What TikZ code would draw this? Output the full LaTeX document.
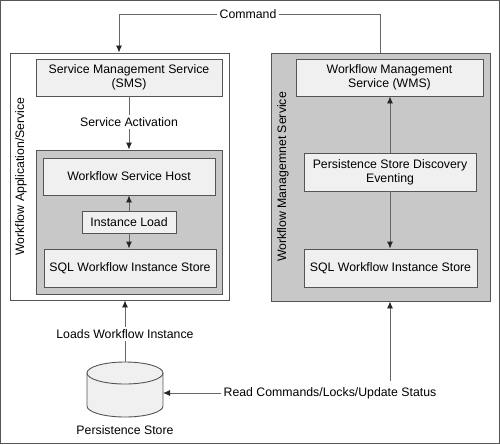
\documentclass[tikz,border=0pt]{standalone}
\usepackage{fontspec}
\setmainfont{Liberation Sans}
\usetikzlibrary{arrows.meta,calc}
\definecolor{edge}{HTML}{555555}
\definecolor{lightbox}{HTML}{F0F0F0}
\definecolor{midgrey}{HTML}{C8C8C8}
\tikzset{
  box/.style={draw=edge, line width=0.9pt, fill=lightbox, align=center, inner sep=0pt, font=\fontsize{12.3}{14}\selectfont},
  container/.style={draw=edge, line width=0.9pt, inner sep=0pt},
  conn/.style={draw=edge!90, line width=0.9pt},
  arr/.style={conn, -{Latex[length=7pt,width=6pt,fill=black!85,color=black!85]}},
  lbl/.style={font=\fontsize{12.3}{14}\selectfont, inner sep=2pt, fill=white},
}
\begin{document}
\begin{tikzpicture}[x=1pt,y=-1pt]
\useasboundingbox (0,0) rectangle (500,444);
\draw[edge, line width=1pt] (0.5,0.5) rectangle (499.5,443.5);
% left container
\node[container, fill=white, minimum width=219, minimum height=247] (leftbox) at (119.5,176.5) {};
\node[container, fill=midgrey, minimum width=186, minimum height=144] (inner) at (129,222) {};
\node[box, minimum width=186, minimum height=37] (sms) at (129,77.5) {Service Management Service\\(SMS)};
\node[box, minimum width=172, minimum height=37] (wsh) at (129,176.5) {Workflow Service Host};
\node[box, minimum width=94, minimum height=22] (il) at (129,222) {Instance Load};
\node[box, minimum width=172, minimum height=38] (sqll) at (130,268) {SQL Workflow Instance Store};
\node[rotate=90, font=\fontsize{12.3}{14}\selectfont] (lefttitle) at (21,176.5) {Workflow Application/Service};
% right container
\node[container, fill=midgrey, minimum width=219, minimum height=248] (rightbox) at (380.5,177) {};
\node[box, minimum width=187, minimum height=37] (wms) at (389.5,77.5) {Workflow Management\\Service (WMS)};
\node[box, minimum width=172, minimum height=38] (psde) at (390,172) {Persistence Store Discovery\\Eventing};
\node[box, minimum width=173, minimum height=38] (sqlr) at (390.5,268) {SQL Workflow Instance Store};
\node[rotate=90, font=\fontsize{12.3}{14}\selectfont] (righttitle) at (283,177) {Workflow Managemnet Service};
% cylinder
\node[minimum width=76, minimum height=56, inner sep=0pt] (ps) at (125,390) {};
\filldraw[draw=edge, line width=0.9pt, fill=lightbox] (87,373) -- (87,406) arc[start angle=180, end angle=360, x radius=38, y radius=-11] -- (163,373) arc[start angle=0, end angle=180, x radius=38, y radius=-11] -- cycle;
\draw[edge, line width=0.9pt] (87,373) arc[start angle=180, end angle=360, x radius=38, y radius=-11];
\node[font=\fontsize{12.3}{14}\selectfont] (pslabel) at (125,430) {Persistence Store};
% command
\node[lbl] (cmd) at (248,14) {Command};
\coordinate (cmdL) at (119,14);
\coordinate (cmdR) at (380,14);
\draw[arr] (cmd.west) -- (cmdL) -- (cmdL |- leftbox.north);
\draw[conn] (cmd.east) -- (cmdR) -- (cmdR |- rightbox.north);
% service activation
\draw[arr] (sms.south) -- (inner.north);
\node[lbl] (sa) at (129,122) {Service Activation};
% instance load arrows
\draw[arr] (il.north) -- (wsh.south);
\draw[arr] (il.south) -- (il.south |- sqll.north);
% right arrows
\draw[arr] (psde.north) -- (psde.north |- wms.south);
\draw[arr] (psde.south) -- (psde.south |- sqlr.north);
% loads workflow instance
\coordinate (psTop) at (125,362);
\draw[arr] (psTop) -- (psTop |- leftbox.south);
\node[lbl] (lwi) at (125,334) {Loads Workflow Instance};
% read commands
\node[lbl] (rc) at (330,393) {Read Commands/Locks/Update Status};
\coordinate (rcTop) at (390,381);
\draw[arr] (rcTop) -- (rcTop |- rightbox.south);
\draw[arr] (rc.west) -- (163,393);
\end{tikzpicture}
\end{document}
